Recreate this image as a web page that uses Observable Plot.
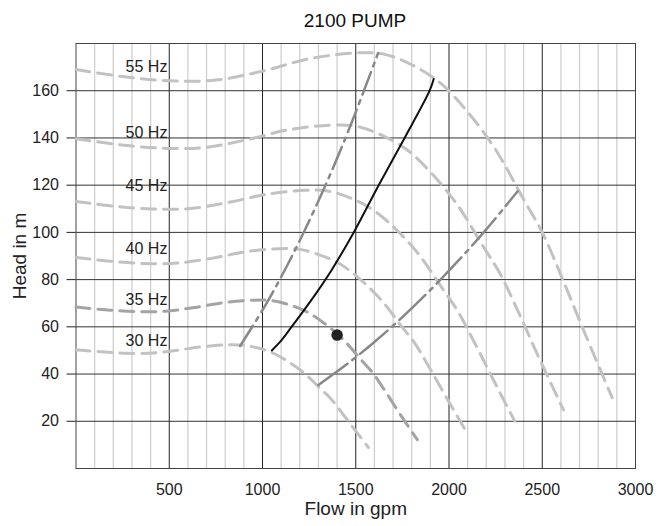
<!DOCTYPE html>
<html><head><meta charset="utf-8">
<script src="https://cdn.jsdelivr.net/npm/d3@7"></script>
<script src="https://cdn.jsdelivr.net/npm/@observablehq/plot@0.6"></script>
<style>
body{margin:0;background:#fff;font-family:"Liberation Sans",Arial,sans-serif;}
#title{width:662px;height:36px;box-sizing:border-box;padding-left:48px;padding-top:3px;text-align:center;font-size:19px;line-height:36px;color:#111;}
</style></head><body>
<div id="title">2100 PUMP</div>
<div id="chart"></div>
<script>
// Speed curves [flow gpm, head m]
const hz55 = [[0,169],[250,166],[500,164.2],[750,164.5],[1000,168.3],[1250,173.5],[1500,176],[1650,175.5],[1800,171],[1950,163.5],[2100,151],[2250,135],[2400,114],[2500,100],[2610,80],[2735,56],[2875,30]];
const hz50 = [[0,139.7],[227,137.2],[455,135.7],[682,135.9],[909,139.1],[1136,143.4],[1364,145.4],[1500,145],[1636,141.3],[1773,135.1],[1909,124.8],[2045,111.6],[2182,94.2],[2273,82.6],[2373,66.1],[2486,46.3],[2614,24.8]];
const hz45 = [[0,113.1],[205,111.1],[409,109.9],[614,110.1],[818,112.7],[1023,116.1],[1227,117.8],[1350,117.5],[1473,114.5],[1595,109.4],[1718,101.1],[1841,90.4],[1964,76.3],[2045,66.9],[2135,53.6],[2238,37.5],[2352,20.1]];
const hz40 = [[0,89.4],[182,87.8],[364,86.8],[545,87],[727,89],[909,91.8],[1091,93.1],[1200,92.8],[1309,90.4],[1418,86.5],[1527,79.9],[1636,71.4],[1745,60.3],[1818,52.9],[1898,42.3],[1989,29.6],[2091,15.9]];
const hz35 = [[0,68.4],[159,67.2],[318,66.5],[477,66.6],[636,68.2],[795,70.3],[955,71.3],[1050,71.1],[1145,69.3],[1241,66.2],[1336,61.2],[1432,54.7],[1527,46.2],[1591,40.5],[1661,32.4],[1740,22.7],[1830,12.2]];
const hz30 = [[0,50.3],[136,49.4],[273,48.8],[409,48.9],[545,50.1],[682,51.6],[818,52.4],[900,52.2],[982,50.9],[1064,48.6],[1145,44.9],[1227,40.2],[1309,33.9],[1364,29.8],[1424,23.8],[1492,16.7],[1568,8.9]];
// Limit lines
const minFlowLine = [[880,51.9],[1030,71.1],[1180,93.4],[1330,118.6],[1470,144.9],[1620,176]];
const maxFlowLine = [[1300,35.4],[1450,44],[1600,53.6],[1750,64.1],[1900,75.6],[2050,88],[2200,101.3],[2368,117.4]];
// System / operating curve
const operatingLine = [[1050,50],[1094,53.6],[1156,60],[1210,65.7],[1290,74.5],[1370,84],[1489,100],[1623,120],[1762,140],[1896,160],[1918,165]];
const dutyPoint = [[1400,56.5]];
// Labels
const hzLabels = ["55 Hz","50 Hz","45 Hz","40 Hz","35 Hz","30 Hz"];
const hzLabelHeads = [170.1,142.3,119.6,93.1,71.4,53.9];
const hzLabelFlow = 490;
const xLabel = "Flow in gpm";
const yLabel = "Head in m";
// Ticks
const xTicks = [500,1000,1500,2000,2500,3000];
const xMinorTicks = [100,200,300,400,600,700,800,900,1100,1200,1300,1400,1600,1700,1800,1900,2100,2200,2300,2400,2600,2700,2800,2900];
const yTicks = [20,40,60,80,100,120,140,160];

const F = (d) => d[0], H = (d) => d[1];
const speedStyle = {x: F, y: H, curve: "catmull-rom", strokeWidth: 3, strokeDasharray: "14,8"};
const labelRows = hzLabels.map((t, i) => ({t, h: hzLabelHeads[i]}));

const chart = Plot.plot({
  width: 662, height: 490,
  marginTop: 7, marginBottom: 58, marginLeft: 75.5, marginRight: 27,
  style: {fontFamily: "'Liberation Sans', Arial, sans-serif", fontSize: "16px", color: "#222", background: "#fff"},
  x: {domain: [0, 3000]},
  y: {domain: [0, 180]},
  marks: [
    Plot.ruleX(xMinorTicks, {stroke: "#d0d0d0", strokeWidth: 1.3}),
    Plot.ruleX(xTicks, {stroke: "#222", strokeWidth: 1}),
    Plot.ruleY(yTicks, {stroke: "#333", strokeWidth: 1}),
    Plot.frame({stroke: "#444"}),
    Plot.axisY(yTicks, {tickSize: 9, tickPadding: 8, label: null, fontSize: 16, tickFormat: (d) => String(d)}),
    Plot.axisX(xTicks, {tickSize: 0, tickPadding: 15, label: null, fontSize: 16, tickFormat: (d) => String(d)}),
    Plot.text([xLabel], {frameAnchor: "bottom", dy: 46, fontSize: 19}),
    Plot.text([yLabel], {frameAnchor: "left", dx: -56, rotate: -90, textAnchor: "middle", lineAnchor: "middle", fontSize: 19}),
    Plot.line(hz55, {...speedStyle, stroke: "#c2c2c2"}),
    Plot.line(hz50, {...speedStyle, stroke: "#c2c2c2"}),
    Plot.line(hz45, {...speedStyle, stroke: "#c2c2c2"}),
    Plot.line(hz40, {...speedStyle, stroke: "#c2c2c2"}),
    Plot.line(hz35, {...speedStyle, stroke: "#a4a4a4"}),
    Plot.line(hz30, {...speedStyle, stroke: "#c2c2c2"}),
    Plot.line(minFlowLine, {x: F, y: H, curve: "catmull-rom", stroke: "#888", strokeWidth: 2.5, strokeDasharray: "24,6,4,6"}),
    Plot.line(maxFlowLine, {x: F, y: H, curve: "catmull-rom", stroke: "#888", strokeWidth: 2.5, strokeDasharray: "36,6,4,6"}),
    Plot.line(operatingLine, {x: F, y: H, curve: "catmull-rom", stroke: "#111", strokeWidth: 2}),
    Plot.dot(dutyPoint, {x: F, y: H, r: 5, fill: "#222", stroke: "#222"}),
    Plot.text(labelRows, {x: () => hzLabelFlow, y: "h", text: "t", textAnchor: "end", fontSize: 16, fill: "#222"})
  ]
});
document.getElementById("chart").appendChild(chart);
</script></body></html>
